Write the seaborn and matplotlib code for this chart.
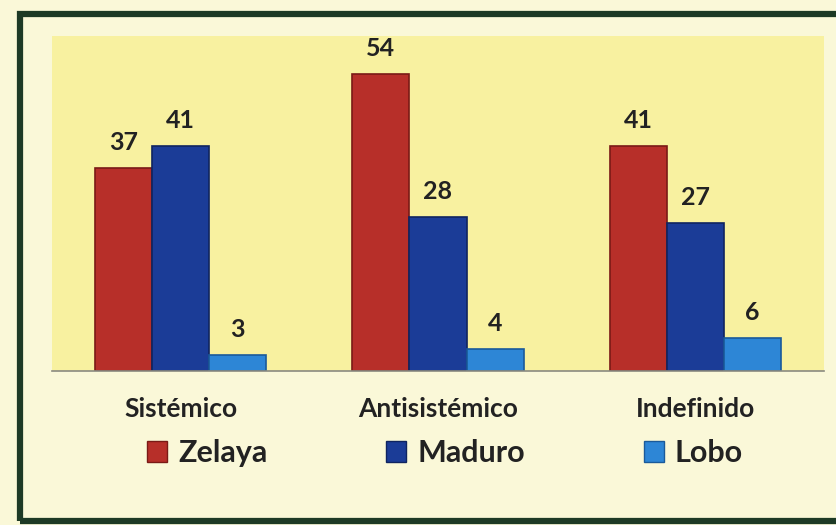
import numpy as np
import pandas as pd
import matplotlib
matplotlib.use('Agg')
import matplotlib.pyplot as plt
import seaborn as sns
from matplotlib.patches import Patch, Rectangle

# data
categorias = ['Sistémico', 'Antisistémico', 'Indefinido']
series = ['Zelaya', 'Maduro', 'Lobo']
zelaya = [37, 54, 41]
maduro = [41, 28, 27]
lobo = [3, 4, 6]

colores = ['#b72f29', '#1b3c97', '#2d86d6']
bordes = ['#7a1a16', '#0f2460', '#1a5a9a']

df = pd.DataFrame({
    'Categoria': categorias * 3,
    'Serie': [s for s in series for _ in categorias],
    'Valor': zelaya + maduro + lobo,
})

sns.set_style('white')
plt.rcParams['font.family'] = ['Lato', 'DejaVu Sans']

W, H = 837, 525
fig = plt.figure(figsize=(W / 100, H / 100), dpi=100)
fig.patch.set_facecolor('#faf8d8')

# plot area in pixels of the reference
left, right, top, base = 52, 824, 36, 371
ax = fig.add_axes([left / W, 1 - base / H, (right - left) / W, (base - top) / H])
ax.set_facecolor('#f8f1a0')

sns.barplot(data=df, x='Categoria', y='Valor', hue='Serie', hue_order=series,
            palette=colores, width=0.665, saturation=1, legend=False, ax=ax)

for cont, borde in zip(ax.containers, bordes):
    for barra in cont:
        barra.set_edgecolor(borde)
        barra.set_linewidth(1.2)
    ax.bar_label(cont, fmt='%d', padding=10, fontsize=18, fontweight='bold', color='#222222')

ax.set_xlim(-0.5, 2.5)
ax.set_ylim(0, (base - top) / 5.5)
ax.set_yticks([])
ax.set_xlabel('')
ax.set_ylabel('')
for lado in ['top', 'right', 'left']:
    ax.spines[lado].set_visible(False)
ax.spines['bottom'].set_color('#8a8a80')
ax.spines['bottom'].set_linewidth(1.2)

ax.set_xticks([0, 1, 2])
ax.set_xticklabels(categorias, fontsize=19, fontweight='bold', color='#222222')
ax.tick_params(axis='x', which='major', length=0, pad=19)
ax.set_xticks([-0.5, 0.5, 1.5, 2.5], minor=True)
ax.tick_params(axis='x', which='minor', length=6, width=1.2, color='#8a8a80', direction='out')

# legend
manijas = [Patch(facecolor=c, edgecolor=b, linewidth=1) for c, b in zip(colores, bordes)]
fig.legend(manijas, series, loc='center', bbox_to_anchor=(445 / W, 1 - 453 / H),
           ncol=3, frameon=False, prop={'size': 22, 'weight': 'bold'},
           handlelength=0.66, handleheight=0.66, handletextpad=0.35,
           columnspacing=3.9, borderpad=0, labelcolor='#222222')

# dark green frame
fig.patches.append(Rectangle((20 / W, 1 - 521 / H), 1.2, (521 - 14) / H,
                             transform=fig.transFigure, fill=False,
                             edgecolor='#1d3a25', linewidth=4.5, zorder=10))

fig.savefig('out.png', dpi=100, facecolor=fig.get_facecolor())
